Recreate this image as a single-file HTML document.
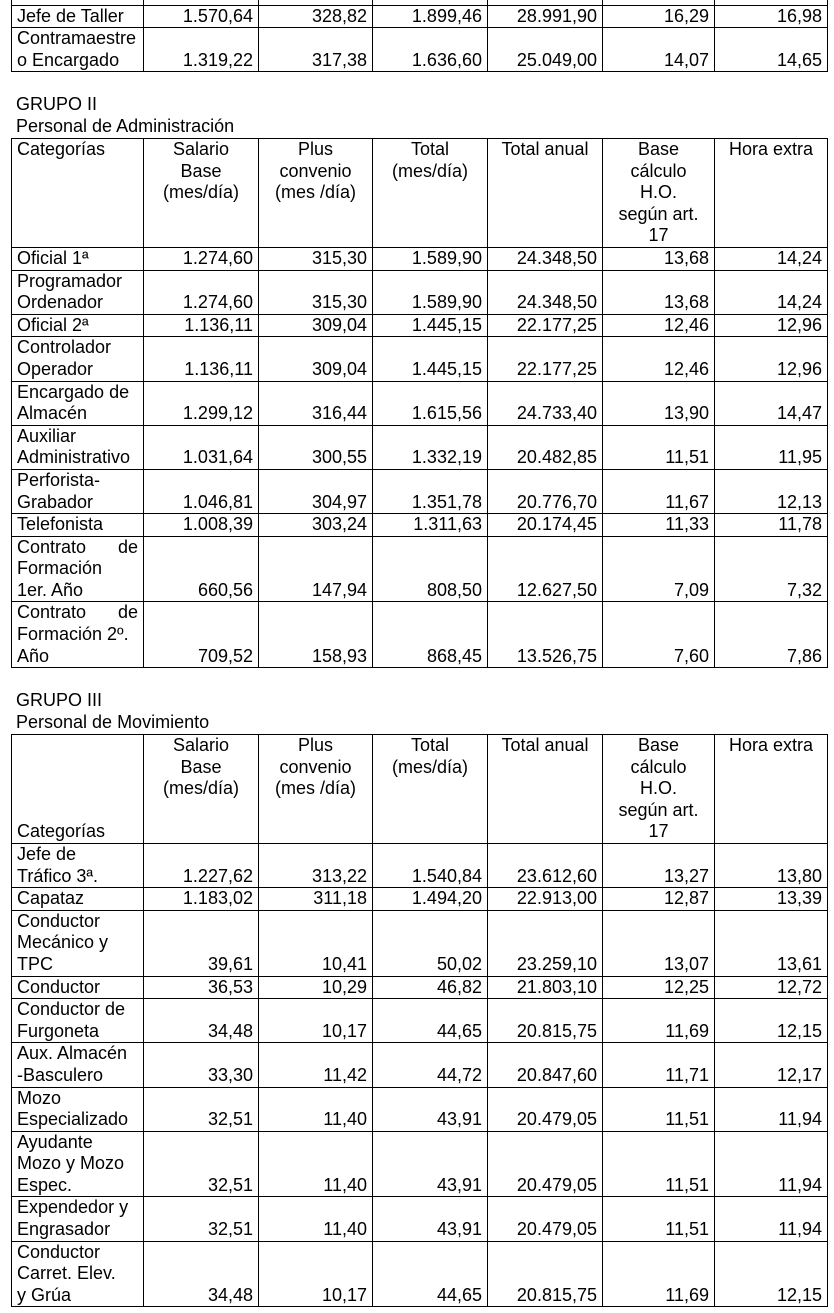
<!DOCTYPE html>
<html><head><meta charset="utf-8"><style>
body{margin:0;width:834px;height:1313px;background:#fff;position:relative;overflow:hidden;font-family:"Liberation Sans",Arial,sans-serif;font-size:18px;color:#000}
table{position:absolute;left:11px;border-collapse:collapse;table-layout:fixed;width:816px}
td{border:1px solid #000;padding:0 5px;line-height:21.6px;vertical-align:bottom;text-align:right;overflow:visible;white-space:nowrap}
td.c{text-align:left}
.sb{display:flex;justify-content:space-between}
tr.h td{text-align:center;vertical-align:top}
tr.h td.c{text-align:left}
.t{position:absolute;left:16px;line-height:22px}
</style></head><body>
<table style="top:-18px">
<colgroup><col style="width:132px"><col style="width:115px"><col style="width:114px"><col style="width:115px"><col style="width:115px"><col style="width:112px"><col style="width:113px"></colgroup>
<tr style="height:23px"><td style="border-top:none"></td><td style="border-top:none"></td><td style="border-top:none"></td><td style="border-top:none"></td><td style="border-top:none"></td><td style="border-top:none"></td><td style="border-top:none"></td></tr>
<tr><td class="c">Jefe de Taller</td><td>1.570,64</td><td>328,82</td><td>1.899,46</td><td>28.991,90</td><td>16,29</td><td>16,98</td></tr>
<tr><td class="c">Contramaestre<br>o Encargado</td><td>1.319,22</td><td>317,38</td><td>1.636,60</td><td>25.049,00</td><td>14,07</td><td>14,65</td></tr>
</table>
<div class="t" style="top:93px">GRUPO II<br>Personal de Administración</div>
<table style="top:138px">
<colgroup><col style="width:132px"><col style="width:115px"><col style="width:114px"><col style="width:115px"><col style="width:115px"><col style="width:112px"><col style="width:113px"></colgroup>
<tr class="h"><td class="c">Categorías</td><td>Salario<br>Base<br>(mes/día)</td><td>Plus<br>convenio<br>(mes /día)</td><td>Total<br>(mes/día)</td><td>Total anual</td><td>Base<br>cálculo<br>H.O.<br>según art.<br>17</td><td>Hora extra</td></tr>
<tr><td class="c">Oficial 1ª</td><td>1.274,60</td><td>315,30</td><td>1.589,90</td><td>24.348,50</td><td>13,68</td><td>14,24</td></tr>
<tr><td class="c">Programador<br>Ordenador</td><td>1.274,60</td><td>315,30</td><td>1.589,90</td><td>24.348,50</td><td>13,68</td><td>14,24</td></tr>
<tr><td class="c">Oficial 2ª</td><td>1.136,11</td><td>309,04</td><td>1.445,15</td><td>22.177,25</td><td>12,46</td><td>12,96</td></tr>
<tr><td class="c">Controlador<br>Operador</td><td>1.136,11</td><td>309,04</td><td>1.445,15</td><td>22.177,25</td><td>12,46</td><td>12,96</td></tr>
<tr><td class="c">Encargado de<br>Almacén</td><td>1.299,12</td><td>316,44</td><td>1.615,56</td><td>24.733,40</td><td>13,90</td><td>14,47</td></tr>
<tr><td class="c">Auxiliar<br>Administrativo</td><td>1.031,64</td><td>300,55</td><td>1.332,19</td><td>20.482,85</td><td>11,51</td><td>11,95</td></tr>
<tr><td class="c">Perforista-<br>Grabador</td><td>1.046,81</td><td>304,97</td><td>1.351,78</td><td>20.776,70</td><td>11,67</td><td>12,13</td></tr>
<tr><td class="c">Telefonista</td><td>1.008,39</td><td>303,24</td><td>1.311,63</td><td>20.174,45</td><td>11,33</td><td>11,78</td></tr>
<tr><td class="c"><div class="sb"><span>Contrato</span><span>de</span></div>Formación<br>1er. Año</td><td>660,56</td><td>147,94</td><td>808,50</td><td>12.627,50</td><td>7,09</td><td>7,32</td></tr>
<tr><td class="c"><div class="sb"><span>Contrato</span><span>de</span></div>Formación 2º.<br>Año</td><td>709,52</td><td>158,93</td><td>868,45</td><td>13.526,75</td><td>7,60</td><td>7,86</td></tr>
</table>
<div class="t" style="top:689px">GRUPO III<br>Personal de Movimiento</div>
<table style="top:734px">
<colgroup><col style="width:132px"><col style="width:115px"><col style="width:114px"><col style="width:115px"><col style="width:115px"><col style="width:112px"><col style="width:113px"></colgroup>
<tr class="h"><td class="c" style="vertical-align:bottom">Categorías</td><td>Salario<br>Base<br>(mes/día)</td><td>Plus<br>convenio<br>(mes /día)</td><td>Total<br>(mes/día)</td><td>Total anual</td><td>Base<br>cálculo<br>H.O.<br>según art.<br>17</td><td>Hora extra</td></tr>
<tr><td class="c">Jefe de<br>Tráfico 3ª.</td><td>1.227,62</td><td>313,22</td><td>1.540,84</td><td>23.612,60</td><td>13,27</td><td>13,80</td></tr>
<tr><td class="c">Capataz</td><td>1.183,02</td><td>311,18</td><td>1.494,20</td><td>22.913,00</td><td>12,87</td><td>13,39</td></tr>
<tr><td class="c">Conductor<br>Mecánico y<br>TPC</td><td>39,61</td><td>10,41</td><td>50,02</td><td>23.259,10</td><td>13,07</td><td>13,61</td></tr>
<tr><td class="c">Conductor</td><td>36,53</td><td>10,29</td><td>46,82</td><td>21.803,10</td><td>12,25</td><td>12,72</td></tr>
<tr><td class="c">Conductor de<br>Furgoneta</td><td>34,48</td><td>10,17</td><td>44,65</td><td>20.815,75</td><td>11,69</td><td>12,15</td></tr>
<tr><td class="c">Aux. Almacén<br>-Basculero</td><td>33,30</td><td>11,42</td><td>44,72</td><td>20.847,60</td><td>11,71</td><td>12,17</td></tr>
<tr><td class="c">Mozo<br>Especializado</td><td>32,51</td><td>11,40</td><td>43,91</td><td>20.479,05</td><td>11,51</td><td>11,94</td></tr>
<tr><td class="c">Ayudante<br>Mozo y Mozo<br>Espec.</td><td>32,51</td><td>11,40</td><td>43,91</td><td>20.479,05</td><td>11,51</td><td>11,94</td></tr>
<tr><td class="c">Expendedor y<br>Engrasador</td><td>32,51</td><td>11,40</td><td>43,91</td><td>20.479,05</td><td>11,51</td><td>11,94</td></tr>
<tr><td class="c">Conductor<br>Carret. Elev.<br>y Grúa</td><td>34,48</td><td>10,17</td><td>44,65</td><td>20.815,75</td><td>11,69</td><td>12,15</td></tr>
</table>
</body></html>
